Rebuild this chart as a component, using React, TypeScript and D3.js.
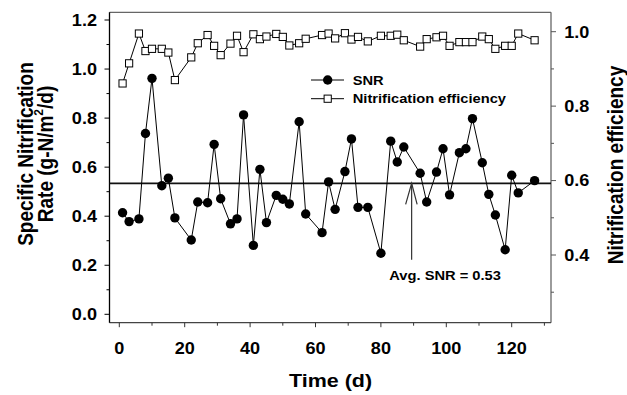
import React from "react";
import * as d3 from "d3";

const days = [1,3,6,8,10,13,15,17,22,24,27,29,31,34,36,38,41,43,45,48,50,52,55,57,62,64,66,69,71,73,76,80,83,85,87,92,94,97,99,101,104,106,108,111,113,115,118,120,122,127];
const snr = [0.414,0.378,0.389,0.737,0.962,0.524,0.555,0.393,0.303,0.458,0.455,0.693,0.471,0.369,0.389,0.813,0.281,0.591,0.374,0.485,0.469,0.450,0.785,0.409,0.333,0.540,0.428,0.582,0.715,0.436,0.436,0.249,0.706,0.621,0.682,0.575,0.458,0.580,0.675,0.487,0.659,0.675,0.798,0.618,0.489,0.405,0.263,0.567,0.495,0.545];
const efficiency = [0.861,0.915,0.995,0.948,0.954,0.954,0.944,0.870,0.931,0.969,0.991,0.962,0.937,0.968,0.989,0.945,0.993,0.980,0.987,0.994,0.986,0.963,0.969,0.981,0.991,0.995,0.982,0.996,0.979,0.986,0.974,0.989,0.989,0.992,0.977,0.960,0.980,0.985,0.989,0.962,0.972,0.972,0.972,0.987,0.980,0.954,0.962,0.962,0.995,0.977];
const avgSNR = 0.534;
const avgLabel = "Avg. SNR = 0.53";
const arrowDay = 89.4;
const arrowBottom = 0.222;

const xMajor = [0, 20, 40, 60, 80, 100, 120];
const xMinor = [10, 30, 50, 70, 90, 110, 130];
const yLMajor = [0, 0.2, 0.4, 0.6, 0.8, 1.0, 1.2];
const yLMinor = [0.1, 0.3, 0.5, 0.7, 0.9, 1.1];
const yRMajor = [0.4, 0.6, 0.8, 1.0];
const yRMinor = [0.3, 0.5, 0.7, 0.9];

const FONT = "'Liberation Sans', Arial, Helvetica, sans-serif";
const SX = 1.13;

function ST({ x, y, anchor = "start", size, children }: any) {
  return (
    <text
      transform={`translate(${x},${y}) scale(${SX},1)`}
      textAnchor={anchor}
      fontSize={size}
      fontWeight="bold"
      fontFamily={FONT}
      fill="#000"
    >
      {children}
    </text>
  );
}

function VT({ x, y, size, children }: any) {
  return (
    <text
      transform={`translate(${x},${y}) scale(${SX},1) rotate(-90)`}
      textAnchor="middle"
      fontSize={size}
      fontWeight="bold"
      fontFamily={FONT}
      fill="#000"
    >
      {children}
    </text>
  );
}

export default function App() {
  const left = 109.5, right = 551, top = 12.3, bottom = 322.7;
  const x = d3.scaleLinear().domain([0, 120]).range([119.3, 511.7]);
  const yL = d3.scaleLinear().domain([0, 1.2]).range([314.3, 20]);
  const yR = d3.scaleLinear().domain([0.4, 1.0]).range([255, 31.7]);

  const snrLine = d3.line<number>().x((_, i) => x(days[i])).y((d) => yL(d))(snr) || "";
  const effLine = d3.line<number>().x((_, i) => x(days[i])).y((d) => yR(d))(efficiency) || "";
  const sq = 7.2;

  const ax = x(arrowDay);
  const aTip = yL(avgSNR);
  const aBot = yL(arrowBottom);

  return (
    <svg width={627} height={395} style={{ position: "absolute", left: 0, top: 0, background: "#fff" }}>
      <rect x={0} y={0} width={627} height={395} fill="#fff" />
      {/* frame */}
      <line x1={left} x2={right} y1={top} y2={top} stroke="#666" strokeWidth={1.3} />
      <line x1={right} x2={right} y1={top} y2={bottom} stroke="#666" strokeWidth={1.3} />
      <line x1={left} x2={right} y1={bottom} y2={bottom} stroke="#444" strokeWidth={1.3} />
      <line x1={left} x2={left} y1={top} y2={bottom} stroke="#000" strokeWidth={1.3} />

      {/* x ticks */}
      {xMajor.map((t) => (
        <g key={"xm" + t}>
          <line x1={x(t)} x2={x(t)} y1={bottom} y2={bottom + 4.5} stroke="#333" />
          <ST x={x(t)} y={354.3} anchor="middle" size={16}>{t}</ST>
        </g>
      ))}
      {xMinor.map((t) => (
        <line key={"xn" + t} x1={x(t)} x2={x(t)} y1={bottom} y2={bottom + 3} stroke="#333" />
      ))}

      {/* left ticks */}
      {yLMajor.map((t) => (
        <g key={"lm" + t}>
          <line x1={left - 5} x2={left} y1={yL(t)} y2={yL(t)} stroke="#000" />
          <ST x={97} y={yL(t) + 5.8} anchor="end" size={16}>{t.toFixed(1)}</ST>
        </g>
      ))}
      {yLMinor.map((t) => (
        <line key={"ln" + t} x1={left - 3} x2={left} y1={yL(t)} y2={yL(t)} stroke="#000" />
      ))}

      {/* right ticks */}
      {yRMajor.map((t) => (
        <g key={"rm" + t}>
          <line x1={right} x2={right + 5} y1={yR(t)} y2={yR(t)} stroke="#555" />
          <ST x={564.3} y={yR(t) + 5.8} anchor="start" size={16}>{t.toFixed(1)}</ST>
        </g>
      ))}
      {yRMinor.map((t) => (
        <line key={"rn" + t} x1={right} x2={right + 3} y1={yR(t)} y2={yR(t)} stroke="#555" />
      ))}

      {/* axis titles */}
      <ST x={330.5} y={387.3} anchor="middle" size={19}>Time (d)</ST>
      <VT x={32.8} y={154} size={19}>Specific Nitrification</VT>
      <VT x={52.5} y={154} size={19}>
        Rate (g-N/m<tspan fontSize={12} dy={-8}>2</tspan><tspan dy={8}>/d)</tspan>
      </VT>
      <VT x={623} y={165} size={19}>Nitrification efficiency</VT>

      {/* average line */}
      <line x1={left} x2={right} y1={yL(avgSNR)} y2={yL(avgSNR)} stroke="#111" strokeWidth={1.6} />

      {/* series */}
      <path d={effLine} fill="none" stroke="#000" strokeWidth={1} />
      {efficiency.map((v, i) => (
        <rect key={"e" + i} x={x(days[i]) - sq / 2} y={yR(v) - sq / 2} width={sq} height={sq} fill="#fff" stroke="#000" strokeWidth={1} />
      ))}
      <path d={snrLine} fill="none" stroke="#000" strokeWidth={1} />
      {snr.map((v, i) => (
        <circle key={"s" + i} cx={x(days[i])} cy={yL(v)} r={4.7} fill="#000" />
      ))}

      {/* arrow */}
      <line x1={ax} x2={ax} y1={aBot} y2={aTip} stroke="#333" strokeWidth={1.2} />
      <polyline points={`${ax - 6},${aTip + 21} ${ax},${aTip} ${ax + 5.5},${aTip + 21}`} fill="none" stroke="#333" strokeWidth={1.2} />
      <ST x={389.3} y={280} anchor="start" size={13}>{avgLabel}</ST>

      {/* legend */}
      <line x1={311} x2={344} y1={80} y2={80} stroke="#000" />
      <circle cx={327.7} cy={80} r={4.7} fill="#000" />
      <ST x={352.7} y={84.7} size={13}>SNR</ST>
      <line x1={311} x2={344} y1={98.7} y2={98.7} stroke="#000" />
      <rect x={327.7 - sq / 2} y={98.7 - sq / 2} width={sq} height={sq} fill="#fff" stroke="#000" />
      <ST x={352.7} y={103.4} size={13}>Nitrification efficiency</ST>
    </svg>
  );
}
